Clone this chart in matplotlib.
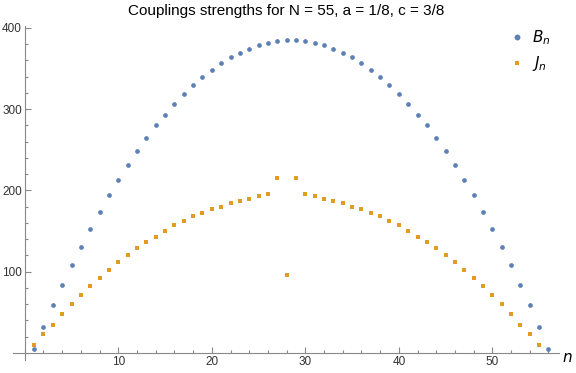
import matplotlib
matplotlib.use("Agg")
import matplotlib.pyplot as plt
from matplotlib.ticker import MultipleLocator

plt.rcParams['font.family'] = ['Liberation Sans', 'DejaVu Sans']

# couplings
B_n = [5, 32, 59, 84, 108, 130, 152, 173, 194, 213, 231, 249, 265, 280,
       293, 306, 318, 330, 340, 348, 357, 364, 369, 374, 379, 381, 384, 385]
B_n = B_n + B_n[::-1]  # symmetric, n = 1..56
J_half = [10, 23, 35, 48, 60, 71, 82, 92, 102, 112, 121, 129, 136, 143,
          150, 157, 162, 168, 172, 177, 180, 184, 187, 189, 193, 196, 215]
J_mid = [96]
J_n = J_half + J_mid + J_half[::-1]  # n = 1..55

n_B = list(range(1, len(B_n) + 1))
n_J = list(range(1, len(J_n) + 1))

blue = '#5E81B5'
orange = '#E19C24'
axcol = '#888888'

fig = plt.figure(figsize=(5.76, 3.73), dpi=100)
ax = fig.add_axes([13 / 576, 13 / 373, 546 / 576, 334 / 373])

ax.plot(n_B, B_n, 'o', color=blue, ms=3.4, mew=0, label='$B_n$')
ax.plot(n_J, J_n, 's', color=orange, ms=2.3, mew=0, label='$J_n$')

ax.set_xlim(-1.26, 57.13)
ax.set_ylim(-8.6, 402.2)

for s in ['top', 'right']:
    ax.spines[s].set_visible(False)
ax.spines['left'].set_position(('data', 0))
ax.spines['bottom'].set_position(('data', 0))
for s in ['left', 'bottom']:
    ax.spines[s].set_color(axcol)
    ax.spines[s].set_linewidth(0.8)

ax.xaxis.set_major_locator(MultipleLocator(10))
ax.xaxis.set_minor_locator(MultipleLocator(2))
ax.yaxis.set_major_locator(MultipleLocator(100))
ax.yaxis.set_minor_locator(MultipleLocator(20))
ax.tick_params(which='both', direction='in', color=axcol, width=0.8,
               labelsize=8.5, labelcolor='#333333', pad=2)
ax.tick_params(which='major', length=4)
ax.tick_params(which='minor', length=2.5)
ax.set_xticks([10, 20, 30, 40, 50])
ax.set_yticks([100, 200, 300, 400])

ax.text(1.005, 0.005, '$n$', transform=ax.transAxes, fontsize=11,
        va='center', ha='left')

ax.set_title('Couplings strengths for N = 55, a = 1/8, c = 3/8',
             fontsize=11, pad=8)

leg = ax.legend(loc='upper right', bbox_to_anchor=(1.01, 1.035), frameon=False,
                fontsize=11, handletextpad=0.5, labelspacing=0.5,
                handlelength=1.0, markerscale=1.25)

fig.savefig('out.png', dpi=100)
